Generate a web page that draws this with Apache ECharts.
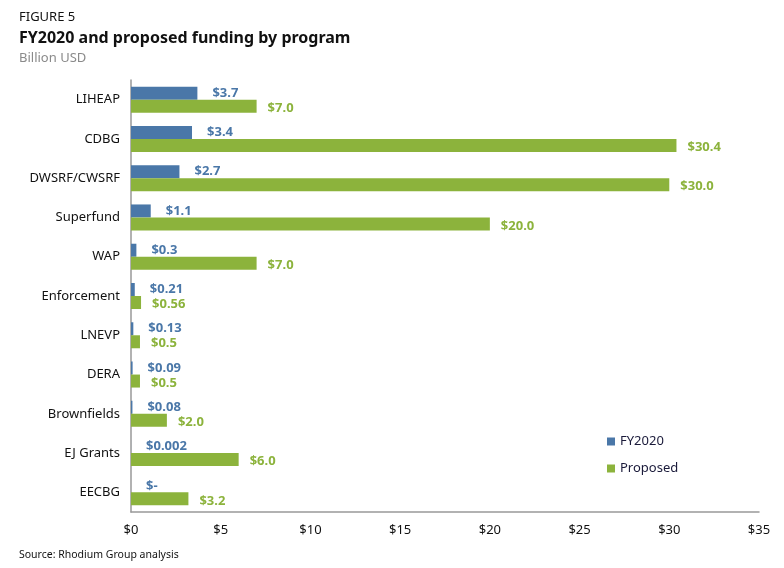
<!DOCTYPE html>
<html><head><meta charset="utf-8">
<script src="https://cdn.jsdelivr.net/npm/echarts@6/dist/echarts.min.js"></script>
<style>html,body{margin:0;padding:0;background:#fff}#c{width:784px;height:568px}</style>
</head><body><div id="c"></div>
<script>
var categories = ["LIHEAP","CDBG","DWSRF/CWSRF","Superfund","WAP","Enforcement","LNEVP","DERA","Brownfields","EJ Grants","EECBG"];
var fy2020 = [3.7,3.4,2.7,1.1,0.3,0.21,0.13,0.09,0.08,0.002,0];
var fy2020Labels = ["$3.7","$3.4","$2.7","$1.1","$0.3","$0.21","$0.13","$0.09","$0.08","$0.002","$-"];
var proposed = [7.0,30.4,30.0,20.0,7.0,0.56,0.5,0.5,2.0,6.0,3.2];
var proposedLabels = ["$7.0","$30.4","$30.0","$20.0","$7.0","$0.56","$0.5","$0.5","$2.0","$6.0","$3.2"];
var xTicks = [0,5,10,15,20,25,30,35];

var FONT = "Noto Sans";
var BLUE = "#4a77a8", GREEN = "#8cb33c";
var chart = echarts.init(document.getElementById('c'));
chart.setOption({
  animation:false,
  textStyle:{fontFamily:FONT},
  title:[
    {text:"FIGURE 5", left:14, top:6, textStyle:{fontFamily:FONT,fontSize:13,fontWeight:'normal',color:'#111'}},
    {text:"FY2020 and proposed funding by program", left:14, top:25, textStyle:{fontFamily:FONT,fontSize:16,fontWeight:'bold',color:'#111'}},
    {text:"Billion USD", left:14, top:47, textStyle:{fontFamily:FONT,fontSize:13,fontWeight:'normal',color:'#8a8a8a'}},
    {text:"Source: Rhodium Group analysis", left:14, top:545, textStyle:{fontFamily:FONT,fontSize:10.5,fontWeight:'normal',color:'#111'}}
  ],
  legend:{
    orient:'vertical', left:602, top:430, itemGap:14, itemWidth:8, itemHeight:8,
    icon:'rect', textStyle:{fontFamily:FONT,fontSize:13,color:'#1a1a3a'},
    data:["FY2020","Proposed"]
  },
  grid:{left:131, right:25, top:80, bottom:56, containLabel:false},
  xAxis:{
    type:'value', min:xTicks[0], max:xTicks[xTicks.length-1], interval:5,
    axisLine:{show:true, lineStyle:{color:'#999',width:1.5}},
    axisTick:{show:false}, splitLine:{show:false},
    axisLabel:{formatter:function(v){return '$'+v;}, color:'#111', fontSize:13, margin:12, fontFamily:FONT}
  },
  yAxis:{
    type:'category', inverse:true, data:categories,
    axisLine:{show:true, lineStyle:{color:'#999',width:1.5}},
    axisTick:{show:false},
    axisLabel:{color:'#111', fontSize:13, margin:11, fontFamily:FONT}
  },
  series:[
    {name:"FY2020", type:'bar', data:fy2020, barWidth:13, barGap:'0%', barCategoryGap:'34%',
     itemStyle:{color:BLUE},
     label:{show:true, position:'right', distance:15, color:BLUE, fontWeight:'bold', fontSize:13, fontFamily:FONT,
       formatter:function(p){return fy2020Labels[p.dataIndex];}}},
    {name:"Proposed", type:'bar', data:proposed, barWidth:13, barGap:'0%', barCategoryGap:'34%',
     itemStyle:{color:GREEN},
     label:{show:true, position:'right', distance:11, offset:[0,2], color:GREEN, fontWeight:'bold', fontSize:13, fontFamily:FONT,
       formatter:function(p){return proposedLabels[p.dataIndex];}}}
  ]
});
</script></body></html>
